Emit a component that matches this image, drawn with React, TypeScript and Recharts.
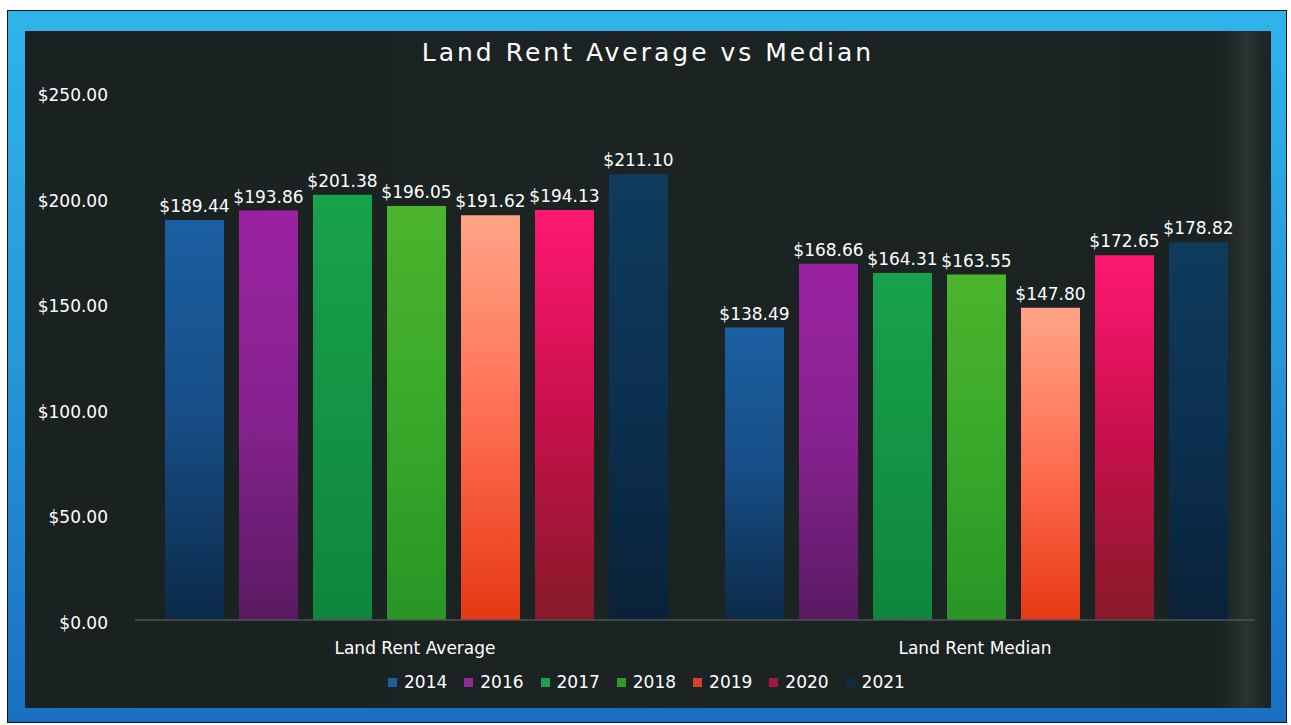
import React from 'react';
import { BarChart, Bar, XAxis, YAxis, LabelList, Legend } from 'recharts';

const categories = ['Land Rent Average', 'Land Rent Median'];
const years = ['2014', '2016', '2017', '2018', '2019', '2020', '2021'];
const s2014 = [189.44, 138.49];
const s2016 = [193.86, 168.66];
const s2017 = [201.38, 164.31];
const s2018 = [196.05, 163.55];
const s2019 = [191.62, 147.8];
const s2020 = [194.13, 172.65];
const s2021 = [211.1, 178.82];
const yTicks = [0, 50, 100, 150, 200, 250];

const seriesValues = [s2014, s2016, s2017, s2018, s2019, s2020, s2021];

const gradients: Record<string, [string, string, string]> = {
  '2014': ['#1b5fa2', '#164d85', '#0c2a48'],
  '2016': ['#9b22a2', '#86228f', '#5a1a62'],
  '2017': ['#18a24c', '#149444', '#0f863c'],
  '2018': ['#4cb42c', '#3aa82a', '#2a9426'],
  '2019': ['#ffa486', '#ff6e52', '#e63812'],
  '2020': ['#ff1872', '#c8104c', '#861a28'],
  '2021': ['#0f3b5c', '#0c3050', '#0a2238'],
};
const legendColors: Record<string, string> = {
  '2014': '#1c5e9e',
  '2016': '#8e2a9c',
  '2017': '#1aa04e',
  '2018': '#2f9a2a',
  '2019': '#d8402a',
  '2020': '#a0183c',
  '2021': '#0d2c46',
};

const data = categories.map((c, i) => {
  const row: Record<string, string | number> = { name: c };
  years.forEach((y, k) => {
    row[y] = seriesValues[k][i];
  });
  return row;
});

const FONT = '"DejaVu Sans", sans-serif';
const fmt = (v: number) => '$' + v.toFixed(2);

const YTick = (props: any) => {
  const { x, y, payload } = props;
  return (
    <text x={x} y={y + 3} dy="0.355em" textAnchor="end" fill="#ffffff" fontSize={17} fontFamily={FONT}>
      {fmt(payload.value)}
    </text>
  );
};

const renderLegend = (props: any) => {
  const payload = (props.payload || []).slice().sort((a: any, b: any) => String(a.value).localeCompare(String(b.value)));
  return (
    <div style={{ display: 'flex', flexDirection: 'row', alignItems: 'center', fontFamily: FONT, fontSize: 17, color: '#ffffff' }}>
      {payload.map((p: any) => (
        <div key={p.value} style={{ display: 'flex', alignItems: 'center', marginRight: 17 }}>
          <div style={{ width: 9, height: 9, background: legendColors[p.value], marginRight: 7 }} />
          <span>{p.value}</span>
        </div>
      ))}
    </div>
  );
};

export default function App() {
  return (
    <div style={{ position: 'absolute', left: 0, top: 0, width: 1291, height: 725, background: '#ffffff', overflow: 'hidden' }}>
      <div
        style={{
          position: 'absolute',
          left: 7,
          top: 10,
          width: 1280,
          height: 713,
          boxSizing: 'border-box',
          border: '1px solid #111',
          background: 'linear-gradient(180deg, #2fb4ea 0%, #2596d8 50%, #1a6fc2 100%)',
        }}
      />
      <div
        style={{
          position: 'absolute',
          left: 25,
          top: 31,
          width: 1246,
          height: 677,
          background: 'linear-gradient(90deg, #192121 0%, #1b2323 50%, #1a2222 96%, #2a3232 98%, #1a2222 100%)',
        }}
      />
      <div
        style={{
          position: 'absolute',
          left: 0,
          top: 38,
          width: 1296,
          textAlign: 'center',
          fontFamily: FONT,
          fontSize: 25,
          letterSpacing: 3,
          color: '#ffffff',
        }}
      >
        Land Rent Average vs Median
      </div>
      <div style={{ position: 'absolute', left: 0, top: 0 }}>
        <BarChart
          width={1291}
          height={725}
          data={data}
          margin={{ top: 92, right: 36, bottom: 75, left: 0 }}
          barCategoryGap={30}
          barGap={15}
        >
          <defs>
            {years.map((y) => (
              <linearGradient key={y} id={'g' + y} x1="0" y1="0" x2="0" y2="1">
                <stop offset="0%" stopColor={gradients[y][0]} />
                <stop offset="50%" stopColor={gradients[y][1]} />
                <stop offset="100%" stopColor={gradients[y][2]} />
              </linearGradient>
            ))}
          </defs>
          <XAxis
            dataKey="name"
            height={30}
            axisLine={{ stroke: '#4d5555', strokeWidth: 1.5 }}
            tickLine={false}
            tickSize={0}
            tickMargin={22}
            tick={{ fill: '#ffffff', fontSize: 17, fontFamily: FONT }}
          />
          <YAxis
            width={135}
            domain={[0, 250]}
            ticks={yTicks}
            axisLine={false}
            tickLine={false}
            tickSize={0}
            tickMargin={27}
            tick={<YTick />}
          />
          <Legend
            layout="vertical"
            verticalAlign="middle"
            align="center"
            wrapperStyle={{ left: 388, top: 672, width: 600 }}
            content={renderLegend}
          />
          {years.map((y) => (
            <Bar key={y} dataKey={y} name={y} fill={'url(#g' + y + ')'} isAnimationActive={false}>
              <LabelList
                dataKey={y}
                position="top"
                offset={8}
                formatter={(v: any) => fmt(Number(v))}
                fill="#ffffff"
                fontSize={17}
                fontFamily={FONT}
              />
            </Bar>
          ))}
        </BarChart>
      </div>
    </div>
  );
}
